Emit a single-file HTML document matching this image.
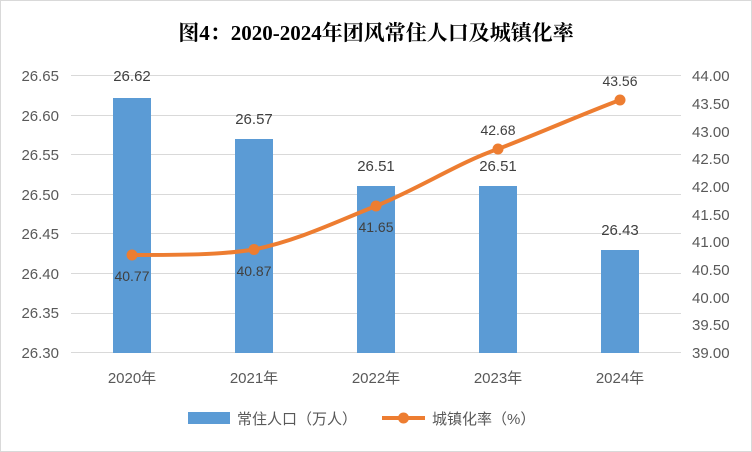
<!DOCTYPE html>
<html><head><meta charset="utf-8"><style>
html,body{margin:0;padding:0;background:#fff;}
svg{display:block;}
</style></head><body>
<svg width="752" height="452" xmlns="http://www.w3.org/2000/svg" font-family="Liberation Sans, Noto Sans CJK SC, sans-serif">
<rect x="0.5" y="0.5" width="751" height="451" fill="#fff" stroke="#d9d9d9"/>
<text x="376" y="40" text-anchor="middle" font-family="Liberation Serif, Noto Serif CJK SC, serif" font-weight="bold" font-size="21" fill="#000">图4：2020-2024年团风常住人口及城镇化率</text>
<g stroke="#d9d9d9" stroke-width="1">
<line x1="71" x2="681" y1="75.5" y2="75.5"/>
<line x1="71" x2="681" y1="115.5" y2="115.5"/>
<line x1="71" x2="681" y1="154.5" y2="154.5"/>
<line x1="71" x2="681" y1="194.5" y2="194.5"/>
<line x1="71" x2="681" y1="233.5" y2="233.5"/>
<line x1="71" x2="681" y1="273.5" y2="273.5"/>
<line x1="71" x2="681" y1="313.5" y2="313.5"/>
<line x1="71" x2="681" y1="352.5" y2="352.5"/>
</g>
<g font-size="15" fill="#595959" text-anchor="end">
<text x="59" y="81">26.65</text><text x="59" y="121">26.60</text><text x="59" y="160">26.55</text><text x="59" y="200">26.50</text><text x="59" y="239">26.45</text><text x="59" y="279">26.40</text><text x="59" y="318">26.35</text><text x="59" y="358">26.30</text>
</g>
<g font-size="15" fill="#595959" text-anchor="start">
<text x="692" y="81">44.00</text><text x="692" y="109">43.50</text><text x="692" y="137">43.00</text><text x="692" y="164">42.50</text><text x="692" y="192">42.00</text><text x="692" y="220">41.50</text><text x="692" y="247">41.00</text><text x="692" y="275">40.50</text><text x="692" y="303">40.00</text><text x="692" y="330">39.50</text><text x="692" y="358">39.00</text>
</g>
<g fill="#5b9bd5">
<rect x="113" y="98" width="38" height="255"/>
<rect x="235" y="139" width="38" height="214"/>
<rect x="357" y="186" width="38" height="167"/>
<rect x="479" y="186" width="38" height="167"/>
<rect x="601" y="250" width="38" height="103"/>
</g>
<g font-size="15" fill="#404040" text-anchor="middle">
<text x="132" y="81">26.62</text>
<text x="254" y="124">26.57</text>
<text x="376" y="171">26.51</text>
<text x="498" y="171">26.51</text>
<text x="620" y="235">26.43</text>
</g>
<path d="M132 255 C180 255,220 255,254 249.5 C300 240,340 220,376 206 C420 188,460 162,498 149 C540 133,580 115,620 100" fill="none" stroke="#ed7d31" stroke-width="4" stroke-linecap="round"/>
<g fill="#ed7d31">
<circle cx="132" cy="255" r="5.5"/><circle cx="254" cy="249.5" r="5.5"/><circle cx="376" cy="206" r="5.5"/><circle cx="498" cy="149" r="5.5"/><circle cx="620" cy="100" r="5.5"/>
</g>
<g font-size="14" fill="#404040" text-anchor="middle">
<text x="132" y="281">40.77</text>
<text x="254" y="276">40.87</text>
<text x="376" y="232">41.65</text>
<text x="498" y="135">42.68</text>
<text x="620" y="86">43.56</text>
</g>
<g font-size="15" fill="#595959" text-anchor="middle">
<text x="132" y="383">2020年</text><text x="254" y="383">2021年</text><text x="376" y="383">2022年</text><text x="498" y="383">2023年</text><text x="620" y="383">2024年</text>
</g>
<rect x="188" y="412" width="42" height="12" fill="#5b9bd5"/>
<text x="237" y="424" font-size="15" fill="#595959">常住人口（万人）</text>
<line x1="382" x2="425" y1="418" y2="418" stroke="#ed7d31" stroke-width="4"/>
<circle cx="403.5" cy="418" r="5.5" fill="#ed7d31"/>
<text x="432" y="424" font-size="15" fill="#595959">城镇化率（%）</text>
</svg>
</body></html>
